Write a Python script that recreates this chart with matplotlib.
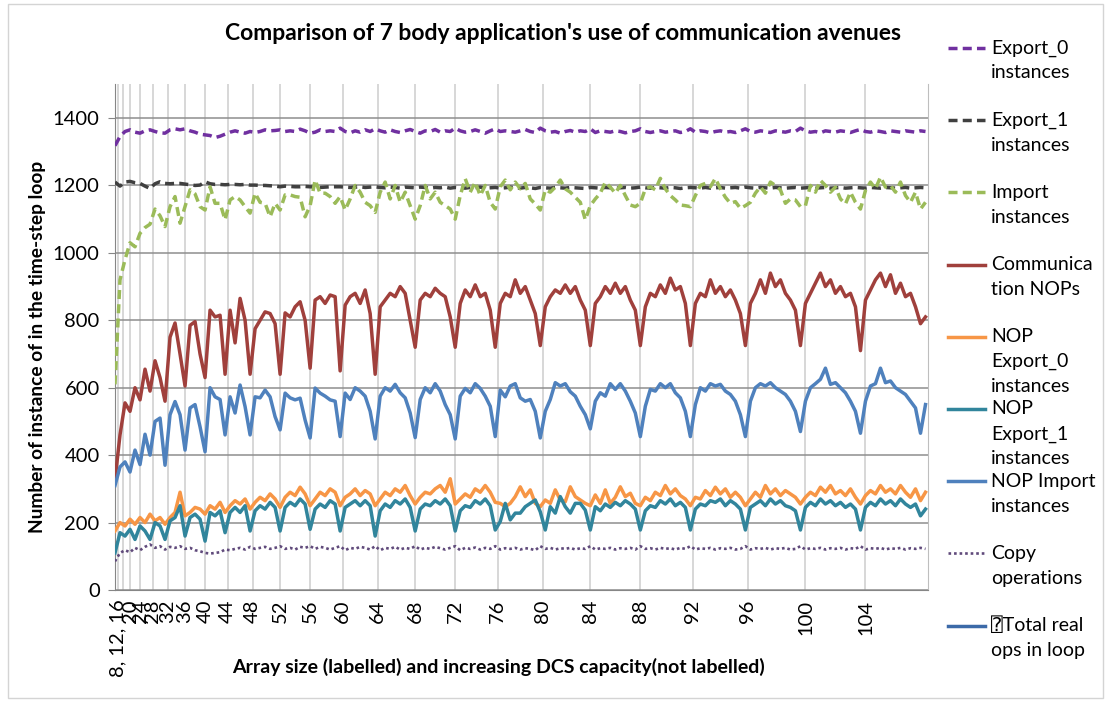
import numpy as np
import matplotlib
matplotlib.use("Agg")
import matplotlib.pyplot as plt
from matplotlib.lines import Line2D
from matplotlib.patches import Rectangle

W, H = 1110, 702
plt.rcParams['font.family'] = ['Lato', 'DejaVu Sans']

# ---------------- data ----------------
array_sizes = [8, 12, 16, 20, 24, 28, 32, 36, 40, 44, 48, 52, 56, 60, 64,
               68, 72, 76, 80, 84, 88, 92, 96, 100, 104]
points_per_size = [1, 2, 3, 4, 5, 6, 7, 8, 9, 10, 11, 12, 13, 14, 15,
                   16, 17, 18, 19, 20, 21, 22, 23, 24, 25]
size_labels = ["", "8, 12, 16", "", "20", "24", "28", "32", "36", "40", "44", "48",
               "52", "56", "60", "64", "68", "72", "76", "80", "84", "88", "92",
               "96", "100", "104"]

export0 = [1318, 1345, 1360, 1365, 1358, 1355, 1362, 1365, 1360, 1356,
           1355, 1365, 1368, 1365, 1368, 1362, 1358, 1352, 1350, 1348,
           1342, 1346, 1352, 1358, 1362, 1358, 1355, 1360, 1357, 1360,
           1365, 1362, 1363, 1365, 1360, 1362, 1360, 1367, 1362, 1355,
           1358, 1365, 1360, 1362, 1360, 1370, 1360, 1356, 1362, 1358,
           1365, 1360, 1368, 1362, 1358, 1365, 1360, 1357, 1362, 1366,
           1360, 1355, 1362, 1360, 1366, 1358, 1362, 1360, 1370, 1362,
           1358, 1360, 1365, 1360, 1355, 1362, 1368, 1360, 1362, 1360,
           1358, 1362, 1366, 1360, 1357, 1370, 1362, 1358, 1360, 1355,
           1360, 1363, 1358, 1362, 1360, 1368, 1357, 1362, 1360, 1358,
           1362, 1360, 1356, 1360, 1362, 1368, 1360, 1357, 1360, 1362,
           1358, 1360, 1362, 1357, 1360, 1368, 1358, 1362, 1360, 1356,
           1360, 1362, 1358, 1360, 1357, 1362, 1368, 1360, 1358, 1362,
           1360, 1357, 1362, 1360, 1358, 1362, 1360, 1370, 1362, 1358,
           1360, 1356, 1362, 1360, 1358, 1362, 1360, 1357, 1362, 1366,
           1360, 1358, 1362, 1360, 1357, 1362, 1360, 1358, 1362, 1360,
           1358, 1362, 1360]

export1 = [1210, 1198, 1210, 1212, 1208, 1206, 1198, 1191, 1205, 1211,
           1206, 1205, 1206, 1206, 1204, 1202, 1200, 1201, 1211, 1205,
           1203, 1203, 1202, 1203, 1203, 1202, 1203, 1201, 1201, 1200,
           1200, 1199, 1198, 1196, 1198, 1197, 1196, 1196, 1197, 1196,
           1195, 1194, 1195, 1196, 1196, 1196, 1195, 1194, 1195, 1196,
           1194, 1195, 1196, 1194, 1193, 1195, 1194, 1192, 1195, 1194,
           1193, 1195, 1194, 1192, 1194, 1193, 1195, 1192, 1194, 1193,
           1192, 1194, 1193, 1195, 1192, 1193, 1194, 1192, 1193, 1195,
           1193, 1192, 1194, 1193, 1191, 1194, 1193, 1192, 1194, 1193,
           1192, 1194, 1193, 1192, 1191, 1194, 1193, 1192, 1194, 1193,
           1192, 1193, 1194, 1192, 1193, 1195, 1193, 1192, 1194, 1193,
           1192, 1194, 1193, 1191, 1193, 1194, 1193, 1192, 1194, 1192,
           1193, 1194, 1192, 1193, 1194, 1192, 1195, 1193, 1192, 1194,
           1193, 1192, 1194, 1193, 1192, 1193, 1194, 1192, 1193, 1194,
           1192, 1193, 1194, 1192, 1193, 1194, 1192, 1193, 1194, 1193,
           1192, 1194, 1193, 1192, 1194, 1193, 1192, 1193, 1194, 1192,
           1193, 1194, 1193]

import_inst = [610, 920, 980, 1030, 1018, 1058, 1075, 1085, 1130, 1110,
               1078, 1137, 1167, 1088, 1137, 1187, 1175, 1137, 1127, 1196,
               1147, 1147, 1098, 1157, 1167, 1157, 1137, 1118, 1177, 1150,
               1147, 1107, 1147, 1127, 1172, 1172, 1167, 1165, 1107, 1140,
               1216, 1177, 1177, 1167, 1147, 1167, 1127, 1160, 1200, 1180,
               1150, 1140, 1120, 1180, 1210, 1160, 1200, 1150, 1180, 1140,
               1100, 1140, 1200, 1160, 1180, 1150, 1140, 1130, 1100, 1170,
               1220, 1180, 1210, 1170, 1200, 1150, 1130, 1196, 1216, 1187,
               1210, 1190, 1206, 1160, 1145, 1127, 1187, 1180, 1195, 1216,
               1190, 1180, 1165, 1150, 1098, 1140, 1160, 1177, 1210, 1195,
               1177, 1200, 1170, 1142, 1137, 1147, 1190, 1196, 1187, 1221,
               1190, 1170, 1157, 1142, 1140, 1137, 1170, 1200, 1206, 1196,
               1221, 1190, 1165, 1147, 1152, 1132, 1140, 1150, 1177, 1196,
               1177, 1210, 1200, 1187, 1147, 1160, 1157, 1137, 1140, 1200,
               1180, 1215, 1200, 1180, 1195, 1160, 1145, 1180, 1150, 1130,
               1185, 1210, 1190, 1225, 1195, 1200, 1180, 1210, 1170, 1150,
               1180, 1130, 1150]

comm_nops = [326, 460, 555, 530, 600, 564, 655, 590, 680, 630,
             560, 750, 792, 700, 605, 785, 796, 700, 630, 830,
             810, 815, 640, 830, 733, 865, 800, 640, 775, 800,
             825, 820, 790, 640, 822, 810, 840, 855, 800, 658,
             860, 870, 850, 875, 870, 650, 845, 870, 880, 850,
             890, 820, 640, 840, 860, 880, 870, 900, 880, 800,
             720, 860, 880, 870, 895, 880, 870, 810, 720, 850,
             890, 870, 905, 870, 880, 830, 720, 850, 880, 870,
             920, 880, 900, 860, 820, 725, 840, 870, 890, 880,
             905, 880, 900, 860, 830, 725, 850, 870, 900, 880,
             910, 880, 900, 860, 830, 725, 840, 880, 870, 905,
             880, 925, 890, 900, 850, 725, 850, 880, 870, 920,
             880, 900, 870, 890, 860, 820, 725, 850, 880, 920,
             880, 940, 900, 920, 880, 860, 830, 725, 850, 880,
             910, 940, 900, 920, 880, 900, 870, 880, 840, 710,
             860, 890, 920, 940, 900, 935, 880, 910, 870, 880,
             840, 790, 810]

nop_export0 = [175, 200, 190, 210, 195, 215, 200, 225, 205, 215,
               195, 215, 230, 290, 220, 230, 245, 240, 225, 250,
               240, 260, 230, 250, 265, 255, 270, 240, 260, 275,
               265, 285, 270, 245, 275, 290, 280, 305, 285, 250,
               270, 290, 280, 300, 290, 250, 275, 285, 300, 280,
               295, 285, 250, 270, 290, 280, 300, 290, 310, 280,
               255, 275, 290, 285, 300, 310, 290, 330, 255, 270,
               285, 275, 300, 290, 310, 290, 260, 257, 247, 257,
               277, 306, 277, 297, 257, 247, 267, 257, 297, 267,
               262, 306, 277, 267, 257, 250, 282, 257, 297, 257,
               275, 306, 277, 287, 257, 250, 275, 265, 290, 280,
               310, 285, 300, 280, 270, 250, 275, 270, 295, 280,
               305, 285, 300, 275, 290, 275, 250, 270, 290, 275,
               310, 285, 300, 280, 295, 285, 275, 255, 275, 290,
               280, 305, 290, 310, 285, 295, 280, 300, 275, 255,
               280, 295, 285, 310, 290, 300, 285, 310, 290, 275,
               300, 265, 290]

nop_export1 = [110, 170, 160, 180, 150, 190, 175, 150, 200, 190,
               150, 205, 215, 250, 160, 215, 225, 210, 145, 230,
               220, 235, 170, 230, 245, 230, 250, 175, 235, 250,
               240, 260, 245, 175, 245, 260, 250, 270, 255, 180,
               240, 255, 245, 265, 255, 175, 245, 255, 265, 250,
               265, 250, 160, 235, 255, 245, 265, 255, 270, 245,
               175, 240, 255, 250, 265, 255, 270, 250, 175, 235,
               250, 245, 265, 255, 270, 250, 178, 203, 257, 208,
               228, 228, 247, 257, 267, 232, 178, 247, 228, 277,
               247, 228, 257, 257, 237, 178, 247, 235, 255, 245,
               260, 250, 265, 255, 240, 178, 235, 250, 245, 265,
               255, 270, 250, 260, 245, 178, 240, 255, 250, 265,
               260, 270, 250, 265, 255, 240, 178, 245, 255, 265,
               250, 270, 255, 265, 250, 245, 235, 178, 245, 260,
               250, 270, 255, 265, 250, 260, 245, 255, 240, 178,
               245, 260, 250, 270, 255, 265, 250, 270, 255, 245,
               255, 220, 240]

nop_import = [310, 365, 380, 350, 415, 372, 462, 400, 500, 510,
              370, 520, 559, 520, 415, 540, 550, 484, 410, 600,
              573, 565, 460, 573, 525, 608, 544, 460, 573, 570,
              593, 573, 514, 475, 584, 570, 564, 569, 504, 451,
              599, 584, 575, 564, 560, 455, 584, 565, 600, 590,
              575, 530, 448, 575, 600, 590, 610, 585, 570, 525,
              452, 565, 600, 585, 612, 590, 550, 520, 448, 575,
              598, 585, 612, 598, 575, 545, 455, 593, 573, 605,
              612, 570, 560, 565, 530, 451, 530, 565, 615, 605,
              612, 588, 575, 545, 520, 478, 560, 585, 575, 612,
              595, 612, 590, 560, 525, 455, 545, 595, 590, 612,
              600, 612, 585, 570, 530, 455, 550, 600, 590, 612,
              605, 610, 590, 580, 560, 520, 455, 560, 600, 612,
              605, 615, 600, 590, 580, 560, 530, 470, 560, 600,
              612, 625, 658, 610, 615, 600, 585, 560, 530, 465,
              560, 605, 612, 658, 615, 620, 600, 590, 580, 560,
              540, 465, 550]

copy_ops = [85, 110, 118, 112, 125, 118, 128, 135, 125, 130,
            120, 128, 125, 130, 122, 125, 118, 115, 110, 108,
            110, 112, 120, 118, 122, 125, 120, 128, 122, 125,
            128, 122, 125, 130, 122, 125, 120, 128, 125, 130,
            122, 128, 125, 120, 125, 130, 118, 125, 122, 128,
            125, 120, 130, 118, 125, 122, 128, 120, 125, 122,
            130, 120, 125, 122, 128, 124, 120, 125, 130, 118,
            125, 122, 126, 120, 125, 122, 130, 120, 124, 122,
            125, 120, 124, 122, 118, 130, 122, 125, 120, 124,
            122, 125, 120, 124, 122, 130, 120, 124, 122, 125,
            120, 124, 122, 125, 120, 130, 122, 124, 120, 125,
            122, 124, 120, 125, 122, 130, 120, 124, 122, 125,
            120, 124, 122, 125, 120, 122, 130, 120, 124, 122,
            125, 120, 124, 122, 125, 120, 122, 130, 120, 124,
            122, 125, 120, 124, 122, 125, 120, 124, 122, 130,
            120, 124, 122, 125, 120, 124, 122, 125, 120, 124,
            122, 125, 122]

legend_labels = ["Export_0\ninstances", "Export_1\ninstances", "Import\ninstances",
                 "Communica\ntion NOPs", "NOP\nExport_0\ninstances",
                 "NOP\nExport_1\ninstances", "NOP Import\ninstances",
                 "Copy\noperations", "\u2370Total real\nops in loop"]

# ---------------- figure ----------------
starts = np.concatenate([[0], np.cumsum(points_per_size)[:-1]])
n_total = int(np.sum(points_per_size))
xs = np.arange(0, n_total, 2)

fig = plt.figure(figsize=(W / 100, H / 100), dpi=100)
fig.add_artist(Rectangle((8 / W, 4 / H), 1095 / W, 694 / H, transform=fig.transFigure,
                         fill=False, edgecolor='#D4D4D4', lw=1))

ax = fig.add_axes([115 / W, 1 - 590 / H, 813 / W, (590 - 84.3) / H])
ax.set_xlim(0, n_total)
ax.set_ylim(0, 1500)
ax.set_yticks(range(0, 1401, 200))
ax.grid(axis='y', color='#8E8E8E', lw=1.1, zorder=0)
for s in starts:
    ax.axvline(s, color='#CDCDCD', lw=1.1, zorder=0)

DOT = (0, (1, 1.1))
DASH = (0, (2.6, 1.5))
series = [
    (export0, '#7030A0', DASH),
    (export1, '#404040', DASH),
    (import_inst, '#9BBB59', DASH),
    (comm_nops, '#A0403C', '-'),
    (nop_export0, '#F79646', '-'),
    (nop_export1, '#31859C', '-'),
    (nop_import, '#4F81BD', '-'),
    (copy_ops, '#604A7B', DOT),
]
for vals, col, ls in series:
    lw = 1.9 if ls == DOT else 2.5
    ax.plot(xs, vals, color=col, lw=lw, linestyle=ls, solid_joinstyle='round', zorder=3)

ax.set_xticks(starts)
ax.set_xticklabels(size_labels, rotation=90, fontsize=14.5)
ax.tick_params(axis='x', length=0, pad=7)
ax.tick_params(axis='y', length=5, color='#868686', labelsize=14.5, pad=6)
ax.spines['top'].set_visible(False)
ax.spines['left'].set_color('#868686')
ax.spines['bottom'].set_color('#868686')
ax.spines['right'].set_color('#BEBEBE')

fig.text(563 / W, 1 - 33 / H, "Comparison of 7 body application's use of communication avenues",
         ha='center', va='center', fontsize=16.5, fontweight='bold')
fig.text(498 / W, 1 - 667 / H, "Array size (labelled) and increasing DCS capacity(not labelled)",
         ha='center', va='center', fontsize=14, fontweight='bold')
fig.text(38 / W, 1 - 347 / H, "Number of instance of in the time-step loop",
         ha='center', va='center', fontsize=13.8, fontweight='bold', rotation=90)

# legend
leg_styles = [s[1:] for s in series] + [('#3C6AA8', '-')]
for k, (lab, (col, ls)) in enumerate(zip(legend_labels, leg_styles)):
    y0 = 48 + 72.2 * k
    lw = 1.9 if ls == DOT else 2.5
    fig.add_artist(Line2D([948 / W, 985 / W], [1 - y0 / H, 1 - y0 / H], transform=fig.transFigure,
                          color=col, lw=lw, linestyle=ls))
    for j, line in enumerate(lab.split("\n")):
        fig.text(991 / W, 1 - (y0 + 25 * j) / H, line, ha='left', va='center', fontsize=14,
                 family=['Lato', 'DejaVu Sans', 'DejaVu Sans Mono'])

fig.savefig("out.png", dpi=100)
